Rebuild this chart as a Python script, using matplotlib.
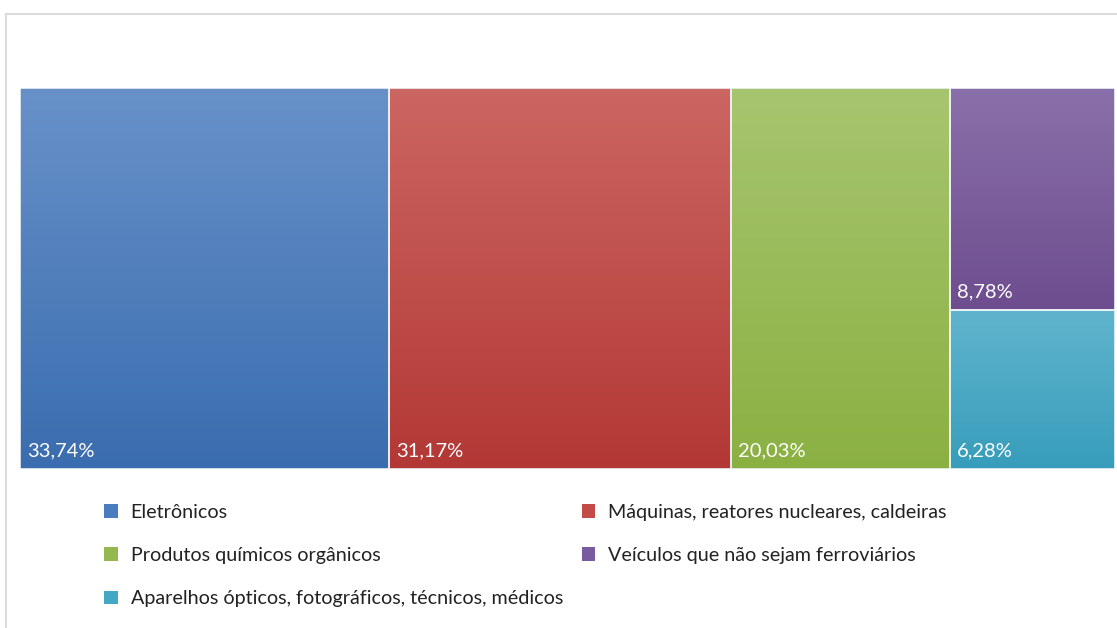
import numpy as np
import matplotlib.pyplot as plt
from matplotlib.colors import LinearSegmentedColormap
from matplotlib.patches import Patch, Rectangle
from matplotlib.lines import Line2D

plt.rcParams['font.family'] = ['Lato', 'DejaVu Sans']

# Treemap data (share of imports, %)
categories = [
    "Eletrônicos",
    "Máquinas, reatores nucleares, caldeiras",
    "Produtos químicos orgânicos",
    "Veículos que não sejam ferroviários",
    "Aparelhos ópticos, fotográficos, técnicos, médicos",
]
values = [33.74, 31.17, 20.03, 8.78, 6.28]
labels = ["33,74%", "31,17%", "20,03%", "8,78%", "6,28%"]
colors_top = ["#6891c9", "#cc6662", "#a7c56f", "#8a70aa", "#60b4cd"]
colors_bottom = ["#3a6daf", "#b33835", "#8bb042", "#6e4d8e", "#379dbb"]
legend_colors = ["#4a7cc0", "#c44a47", "#93b84f", "#7b5ba0", "#43a8c6"]

# Layout: first three as full-height columns, last two stacked in last column
total = sum(values)
rects = []
x0 = 0.0
for v in values[:3]:
    rects.append((x0, 0.0, v, total))
    x0 += v
last_w = values[3] + values[4]
h_cyan = total * values[4] / last_w
rects.append((x0, h_cyan, last_w, total - h_cyan))
rects.append((x0, 0.0, last_w, h_cyan))

fig = plt.figure(figsize=(11.17, 6.28), dpi=100)

# chart frame
fig.add_artist(Line2D([0.005, 1.0], [1 - 13.5 / 628, 1 - 13.5 / 628],
                      color="#dcdcdc", lw=1.5, transform=fig.transFigure))
fig.add_artist(Line2D([6 / 1117, 6 / 1117], [0, 1 - 13.5 / 628],
                      color="#dcdcdc", lw=1.5, transform=fig.transFigure))

ax = fig.add_axes([20 / 1117, 1 - 469 / 628, 1095 / 1117, 381 / 628])
ax.set_xlim(0, total)
ax.set_ylim(0, total)
ax.axis("off")

grad = np.linspace(0, 1, 256).reshape(-1, 1)
for (x, y, w, h), ct, cb, lab in zip(rects, colors_top, colors_bottom, labels):
    cmap = LinearSegmentedColormap.from_list("g", [cb, ct])
    ax.imshow(grad, cmap=cmap, extent=(x, x + w, y, y + h), origin="lower",
              aspect="auto", interpolation="bicubic", zorder=1)
    ax.add_patch(Rectangle((x, y), w, h, fill=False, ec="#eef2f6", lw=1.2,
                           zorder=2))
    ax.text(x + 0.65, y + 3.3, lab, color="white", fontsize=14.5, ha="left",
            va="baseline", zorder=3)
ax.set_xlim(0, total)
ax.set_ylim(0, total)

# legend, row-major order in two columns
order = [0, 2, 4, 1, 3]
handles = [Patch(facecolor=legend_colors[i], edgecolor="none") for i in order]
fig.legend(handles, [categories[i] for i in order], ncol=2,
           loc="upper left", bbox_to_anchor=(96 / 1117, 1 - 496 / 628),
           frameon=False, fontsize=14.2, handlelength=0.7, handleheight=0.7,
           handletextpad=0.65, columnspacing=0.95, labelspacing=1.33,
           borderaxespad=0, borderpad=0.4, labelcolor="#222222")

fig.savefig("out.png", dpi=100, facecolor="white")
